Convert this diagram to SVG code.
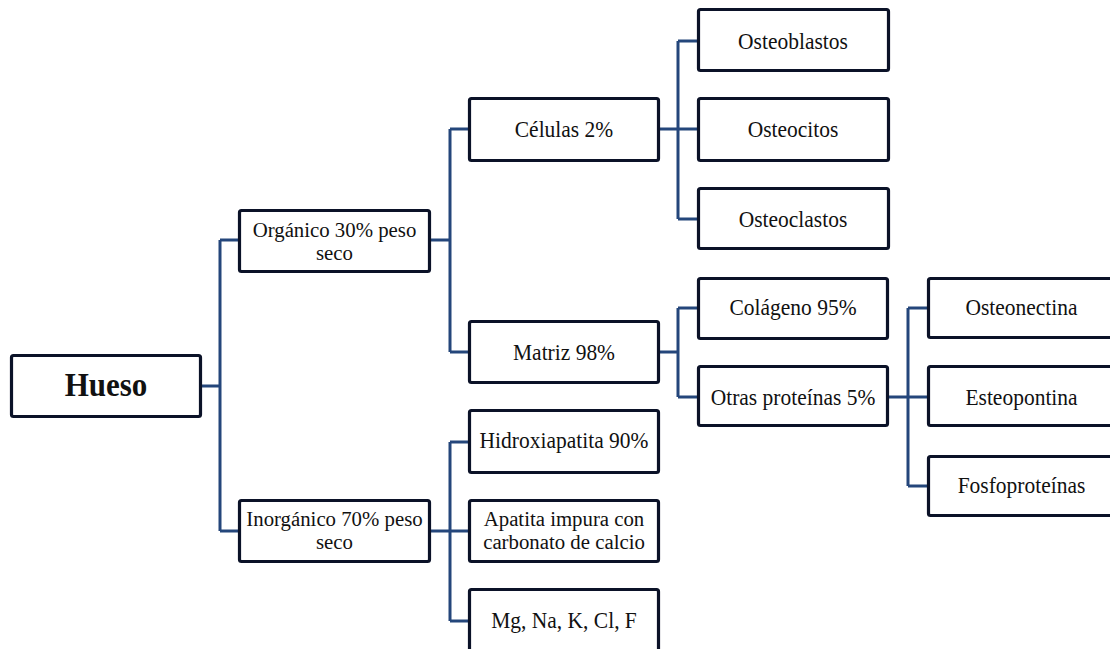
<svg xmlns="http://www.w3.org/2000/svg" width="1110" height="649" viewBox="0 0 1110 649">
<style>
.box{fill:#fff;stroke:#0b1228;stroke-width:3.2}
.t{font-family:"Liberation Serif","Times New Roman",serif;font-size:21.5px;fill:#111;text-anchor:middle}
.t2{font-family:"Liberation Serif","Times New Roman",serif;font-size:20.8px;fill:#111;text-anchor:middle}
.tb{font-family:"Liberation Serif","Times New Roman",serif;font-size:31px;font-weight:bold;fill:#111;text-anchor:middle}
.c{fill:none;stroke:#24467b;stroke-width:3}
</style>
<rect width="1110" height="649" fill="#fff"/>
<g id="connectors">
<path class="c" d="M202,386H220M220,240V531M220,240H238M220,531H238"/>
<path class="c" d="M431,240H450M450,129V352M450,129H468M450,352H468"/>
<path class="c" d="M431,531H450M450,442V621M450,442H468M450,531H468M450,621H468"/>
<path class="c" d="M660,129H697M678,41V219M678,41H697M678,219H697"/>
<path class="c" d="M660,352H678M678,308V397M678,308H697M678,397H697"/>
<path class="c" d="M889,397H927M908,308V486M908,308H927M908,486H927"/>
</g>
<g id="hueso"><rect class="box" x="11.5" y="355.5" width="189" height="61" rx="2"/><text class="tb" transform="translate(106,396) scale(1,1.08)">Hueso</text></g>
<g id="organico"><rect class="box" x="239.5" y="210.5" width="190" height="61" rx="2"/><text class="t2" x="334.5" y="236.5"><tspan x="334.5" y="236.5">Orgánico 30% peso</tspan><tspan x="334.5" y="259.8">seco</tspan></text></g>
<g id="inorganico"><rect class="box" x="239.5" y="500.5" width="190" height="61" rx="2"/><text class="t2" x="334.5" y="526"><tspan x="334.5" y="526">Inorgánico 70% peso</tspan><tspan x="334.5" y="549.3">seco</tspan></text></g>
<g id="celulas"><rect class="box" x="469.5" y="98.5" width="189" height="62" rx="2"/><text class="t" transform="translate(564,137) scale(1,1.12)">Células 2%</text></g>
<g id="matriz"><rect class="box" x="469.5" y="321.5" width="189" height="61" rx="2"/><text class="t" transform="translate(564,360) scale(1,1.12)">Matriz 98%</text></g>
<g id="hidroxiapatita"><rect class="box" x="469.5" y="410.5" width="189" height="62" rx="2"/><text class="t" transform="translate(564,448) scale(1,1.12)">Hidroxiapatita 90%</text></g>
<g id="apatita"><rect class="box" x="469.5" y="500.5" width="189" height="61" rx="2"/><text class="t2" x="564" y="526"><tspan x="564" y="526">Apatita impura con</tspan><tspan x="564" y="549.3">carbonato de calcio</tspan></text></g>
<g id="minerales"><rect class="box" x="469.5" y="589.5" width="189" height="70" rx="2"/><text class="t" transform="translate(564,628) scale(1,1.12)">Mg, Na, K, Cl, F</text></g>
<g id="osteoblastos"><rect class="box" x="698.5" y="9.5" width="190" height="61" rx="2"/><text class="t" transform="translate(793,49) scale(1,1.12)">Osteoblastos</text></g>
<g id="osteocitos"><rect class="box" x="698.5" y="98.5" width="190" height="62" rx="2"/><text class="t" transform="translate(793,137) scale(1,1.12)">Osteocitos</text></g>
<g id="osteoclastos"><rect class="box" x="698.5" y="188.5" width="190" height="60" rx="2"/><text class="t" transform="translate(793,227) scale(1,1.12)">Osteoclastos</text></g>
<g id="colageno"><rect class="box" x="698.5" y="278.5" width="189" height="60" rx="2"/><text class="t" transform="translate(793,315) scale(1,1.12)">Colágeno 95%</text></g>
<g id="otras"><rect class="box" x="698.5" y="366.5" width="189" height="59" rx="2"/><text class="t" transform="translate(793,405) scale(1,1.12)">Otras proteínas 5%</text></g>
<g id="osteonectina"><rect class="box" x="928.5" y="278.5" width="188" height="59" rx="2"/><text class="t" transform="translate(1021.5,315) scale(1,1.12)">Osteonectina</text></g>
<g id="esteopontina"><rect class="box" x="928.5" y="366.5" width="188" height="59" rx="2"/><text class="t" transform="translate(1021.5,405) scale(1,1.12)">Esteopontina</text></g>
<g id="fosfoproteinas"><rect class="box" x="928.5" y="456.5" width="188" height="59" rx="2"/><text class="t" transform="translate(1021.5,493) scale(1,1.12)">Fosfoproteínas</text></g>
</svg>
